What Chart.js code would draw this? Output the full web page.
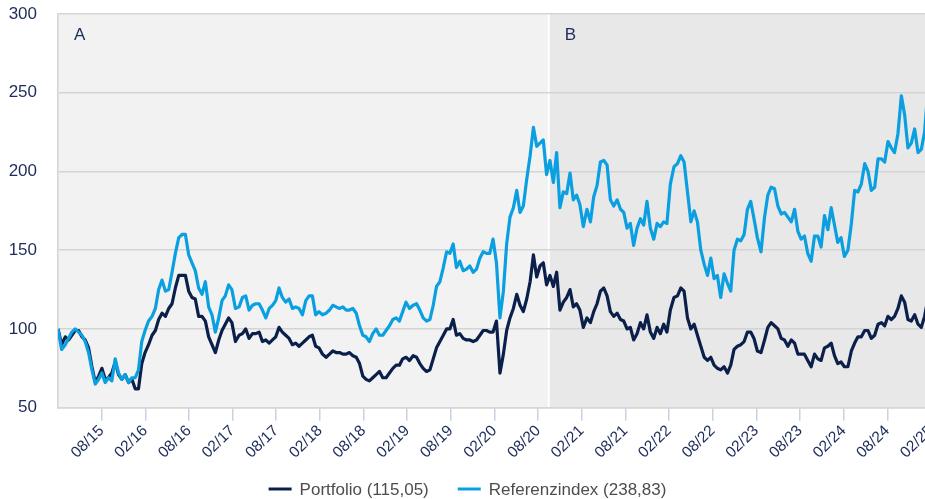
<!DOCTYPE html>
<html><head><meta charset="utf-8">
<script src="https://cdn.jsdelivr.net/npm/chart.js@4.4.1/dist/chart.umd.min.js"></script>
<style>
html,body{margin:0;padding:0;background:#fff;overflow:hidden;}
#wrap{position:relative;width:935px;height:499px;}
</style></head><body>
<div id="wrap"><canvas id="c" width="935" height="499"></canvas></div>
<script>
// sampling: one value every 14 days starting 2015-02-01
const startDate = '2015-02-01';
const stepDays = 14;
const endDate = '2025-02-09';
const phaseBoundary = '2020-09-15';
const phaseLabels = ['A', 'B'];
const tickLabels = ['08/15','02/16','08/16','02/17','08/17','02/18','08/18','02/19','08/19','02/20','08/20','02/21','08/21','02/22','08/22','02/23','08/23','02/24','08/24','02/25'];
const seriesNames = ['Portfolio (115,05)', 'Referenzindex (238,83)'];
const yTicks = [50, 100, 150, 200, 250, 300];

const portfolio = [
100,90,95,93,96,99,99,95,93,88,76,66,70,75,68,69,72,79,71,68,71,66,68,62,62,78,85,90,96,99,106,110,108,113,116,126,134,134,134,124,120,119,108,
108,105,95,90,85,93,99,103,107,104,92,96,97,100,94,97,97,98,92,93,91,93,95,101,98,96,94,90,91,89,91,93,95,96,89,88,84,82,84,86,85,85,84,84,
85,83,82,78,70,68,67,69,71,73,69,69,72,75,77,77,81,82,80,83,82,78,75,73,74,81,88,92,96,100,100,106,96,97,94,93,93,92,93,96,99,99,98,
98,105,72,84,99,107,113,122,115,111,119,130,147,133,140,142,128,134,127,136,112,117,120,125,114,116,112,101,107,104,111,116,124,126,121,111,108,110,106,105,100,101,93,97,
104,100,109,98,94,101,97,103,98,112,120,121,126,124,107,100,103,96,89,82,80,82,77,75,74,76,72,77,87,89,90,92,98,98,94,86,85,93,101,104,102,100,94,
93,89,93,91,84,84,84,80,76,84,81,80,88,89,91,83,78,79,76,76,86,91,95,95,99,99,94,96,103,104,102,108,106,108,113,121,117,106,105,109,103,101,108,119,
115.05
];
const referenz = [
100,87,90,94,98,100,98,96,92,85,74,65,68,72,66,69,67,81,72,68,71,66,69,69,74,92,99,105,108,113,125,131,124,125,136,148,158,160,160,147,142,137,126,
122,130,114,109,98,107,118,121,128,125,113,114,120,121,112,115,116,116,112,107,113,115,118,126,120,117,119,113,114,113,109,118,121,121,109,111,109,110,112,115,114,113,114,112,
112,113,110,102,96,95,92,97,100,96,96,99,102,106,107,105,111,117,113,115,116,112,107,105,106,115,127,130,139,149,148,154,139,143,137,138,140,136,138,145,149,148,148,
157,142,107,124,154,171,177,188,174,178,195,210,228,216,218,220,198,207,193,212,177,187,186,199,182,185,179,165,176,168,184,191,206,207,204,182,178,182,176,174,164,167,153,164,
170,166,181,164,157,167,165,168,167,192,203,205,210,206,187,168,175,168,150,141,134,145,132,134,120,135,129,124,150,157,156,160,176,181,170,158,149,171,185,190,189,178,173,
174,171,168,176,162,157,159,148,143,159,159,152,172,163,177,166,155,158,146,150,167,188,187,192,205,200,188,190,208,208,206,219,215,212,224,248,236,215,218,227,212,214,225,252,
238.83
];

const NAVY = '#1d2c5b';
const COL_PORT = '#0b1f4b';
const COL_REF = '#0a9fe0';
const FONT = '"Liberation Sans", Arial, sans-serif';

function parseDate(s){ return new Date(s + 'T00:00:00Z'); }
function monthIndex(d){
  const y = d.getUTCFullYear(), m = d.getUTCMonth(), day = d.getUTCDate();
  const dim = new Date(Date.UTC(y, m + 1, 0)).getUTCDate();
  return (y - 2015) * 12 + m + (day - 1) / dim;
}
function labelToMonth(l){ const [mm, yy] = l.split('/').map(Number); return (2000 + yy - 2015) * 12 + (mm - 1); }
const labelByMonth = {}; tickLabels.forEach(l => labelByMonth[labelToMonth(l)] = l);

const start = parseDate(startDate);
const xs = portfolio.map((_, i) => monthIndex(new Date(start.getTime() + i * stepDays * 86400000)));

const bgPlugin = {
  id: 'phases',
  beforeDraw(chart){
    const {ctx, chartArea: a, scales: {x}} = chart;
    const bx = x.getPixelForValue(monthIndex(parseDate(phaseBoundary)));
    ctx.save();
    ctx.fillStyle = '#f2f2f2'; ctx.fillRect(a.left, a.top, bx - a.left, a.bottom - a.top);
    ctx.fillStyle = '#e8e8e8'; ctx.fillRect(bx, a.top, a.right - bx, a.bottom - a.top);
    ctx.fillStyle = '#ffffff'; ctx.fillRect(bx - 1, a.top, 2, a.bottom - a.top);
    ctx.fillStyle = NAVY; ctx.font = '17px ' + FONT; ctx.textBaseline = 'top'; ctx.textAlign = 'left';
    ctx.fillText(phaseLabels[0], a.left + 16, a.top + 13);
    ctx.fillText(phaseLabels[1], bx + 16, a.top + 13);
    ctx.restore();
  },
  afterDraw(chart){
    const ctx = chart.ctx;
    const items = [{t: seriesNames[0], c: COL_PORT}, {t: seriesNames[1], c: COL_REF}];
    ctx.save();
    ctx.font = '17px ' + FONT;
    const lineW = 23, gap = 8, itemGap = 29;
    const widths = items.map(it => lineW + gap + ctx.measureText(it.t).width);
    const total = widths.reduce((s, w) => s + w, 0) + itemGap;
    let x = chart.width / 2 - total / 2;
    const y = 489;
    items.forEach((it, i) => {
      ctx.strokeStyle = it.c; ctx.lineWidth = 3;
      ctx.beginPath(); ctx.moveTo(x, y); ctx.lineTo(x + lineW, y); ctx.stroke();
      ctx.fillStyle = '#4d4d4d'; ctx.textBaseline = 'middle'; ctx.textAlign = 'left';
      ctx.fillText(it.t, x + lineW + gap, y + 1);
      x += widths[i] + itemGap;
    });
    ctx.restore();
  }
};

new Chart(document.getElementById('c'), {
  type: 'line',
  data: {
    datasets: [
      { label: seriesNames[0], data: xs.map((x, i) => ({x, y: portfolio[i]})), borderColor: COL_PORT, borderWidth: 3.2, pointRadius: 0, tension: 0, order: 1, borderJoinStyle: 'round' },
      { label: seriesNames[1], data: xs.map((x, i) => ({x, y: referenz[i]})), borderColor: COL_REF, borderWidth: 3.2, pointRadius: 0, tension: 0, order: 0, borderJoinStyle: 'round' }
    ]
  },
  options: {
    responsive: false, animation: false, devicePixelRatio: 1,
    layout: { padding: { left: 9, top: 14, right: 2, bottom: 36 } },
    plugins: { legend: { display: false }, tooltip: { enabled: false } },
    scales: {
      x: {
        type: 'linear', min: monthIndex(start), max: monthIndex(parseDate(endDate)),
        afterBuildTicks: s => { s.ticks = tickLabels.map(l => ({ value: labelToMonth(l) })); },
        afterFit: s => { s.paddingLeft = 0; s.paddingRight = 0; },
        ticks: { autoSkip: false, minRotation: 44, maxRotation: 44, padding: 1, color: NAVY, font: { size: 15.5, family: FONT },
          callback: v => labelByMonth[Math.round(v)] || '' },
        grid: { drawOnChartArea: false, drawTicks: true, tickLength: 13, color: '#c8d2e6', lineWidth: 1.5 },
        border: { display: true, color: '#d6d6d6', width: 1.5 }
      },
      y: {
        min: 50, max: 300,
        afterBuildTicks: s => { s.ticks = yTicks.map(v => ({ value: v })); },
        afterFit: s => { s.width = 49; s.paddingTop = 0; s.paddingBottom = 0; },
        ticks: { padding: 21, color: NAVY, font: { size: 17, family: FONT } },
        grid: { drawTicks: false, color: '#d4d4d4', lineWidth: 1.5 },
        border: { display: true, color: '#d4d4d4', width: 1.5 }
      }
    }
  },
  plugins: [bgPlugin]
});
</script>
</body></html>
